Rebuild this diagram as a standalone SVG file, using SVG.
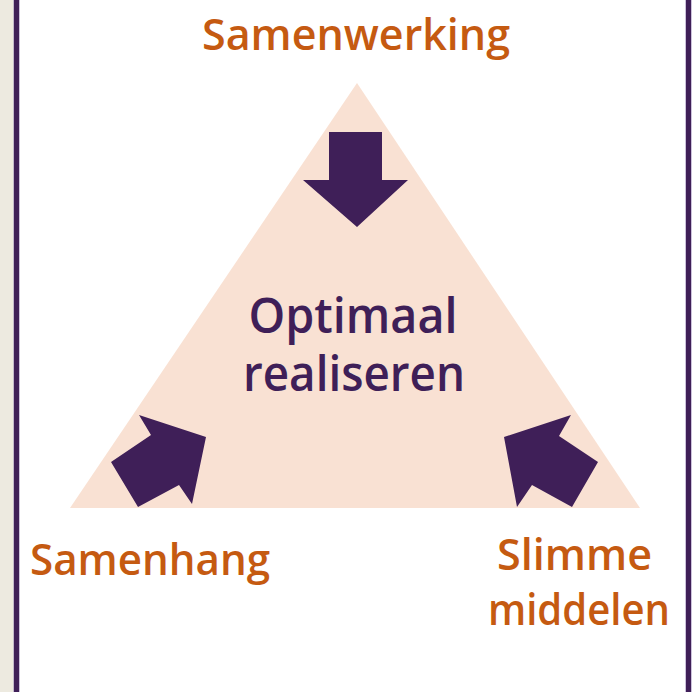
<svg xmlns="http://www.w3.org/2000/svg" width="693" height="692" viewBox="0 0 693 692">
<style>
.lbl{font-family:"Open Sans","Noto Sans",sans-serif;font-weight:600;fill:#C55A11;font-size:44px;text-anchor:middle}
.ctr{font-family:"Open Sans","Noto Sans",sans-serif;font-weight:600;fill:#3F1F58;font-size:48px;text-anchor:middle}
.arrow{fill:#3F1F58}
</style>
<rect x="0" y="0" width="693" height="692" fill="#FFFFFF"/>
<rect x="0" y="0" width="14" height="692" fill="#EDEAE0"/>
<rect x="13.5" y="0" width="6" height="692" fill="#9A86B8"/>
<rect x="14" y="0" width="5" height="692" fill="#3F1F58"/>
<rect x="685.5" y="0" width="6" height="692" fill="#9A86B8"/>
<rect x="686" y="0" width="5" height="692" fill="#3F1F58"/>
<g id="triangle">
<polygon points="357,83 640,508 70,508" fill="#F9E1D3"/>
<text class="ctr" x="353" y="333" textLength="209" lengthAdjust="spacingAndGlyphs">Optimaal</text>
<text class="ctr" x="354" y="391" textLength="222" lengthAdjust="spacingAndGlyphs">realiseren</text>
</g>
<g id="connectors">
<polygon class="arrow" points="329,132 382,132 382,180 408,180 357,227 303,180 329,180"/>
<polygon class="arrow" points="206,437 139,415 151,435 111,462 138,507 179,485 192,504"/>
<polygon class="arrow" points="504,437 571,415 559,436 598,462 572,507 532,485 517,507"/>
</g>
<g id="samenwerking">
<text class="lbl" x="356" y="50" textLength="308" lengthAdjust="spacingAndGlyphs">Samenwerking</text>
</g>
<g id="samenhang">
<text class="lbl" x="150" y="575" textLength="240" lengthAdjust="spacingAndGlyphs">Samenhang</text>
</g>
<g id="slimme-middelen">
<text class="lbl" x="574.5" y="570" textLength="155" lengthAdjust="spacingAndGlyphs">Slimme</text>
<text class="lbl" x="579" y="625" textLength="182" lengthAdjust="spacingAndGlyphs">middelen</text>
</g>
</svg>
